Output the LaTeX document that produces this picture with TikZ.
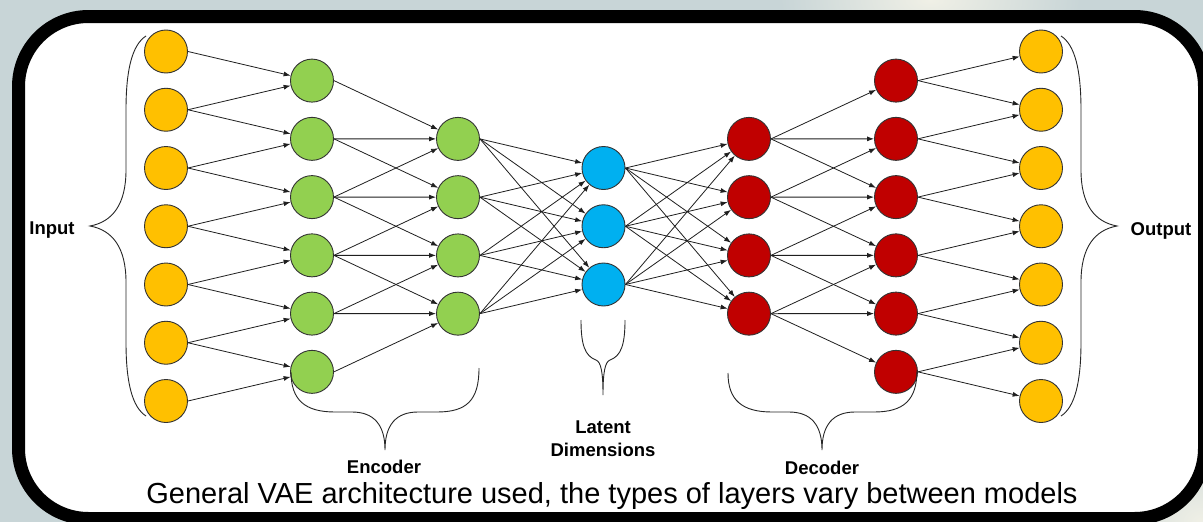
\documentclass[tikz,border=0pt]{standalone}
\usepackage{fontspec}
\setmainfont{Liberation Sans}
\usetikzlibrary{arrows.meta}
\definecolor{cyel}{HTML}{FFC000}
\definecolor{cgrn}{HTML}{92D050}
\definecolor{cblu}{HTML}{00B0F0}
\definecolor{cred}{HTML}{C00000}
\definecolor{bgc}{RGB}{200,213,215}
\definecolor{bglt}{RGB}{240,240,230}
\begin{document}
\begin{tikzpicture}[x=1pt,y=-1pt,
  neuron/.style={circle, draw=black!80, line width=0.9pt, minimum size=43pt, inner sep=0pt},
  inp/.style={neuron, fill=cyel},
  enc/.style={neuron, fill=cgrn},
  lat/.style={neuron, fill=cblu},
  dec/.style={neuron, fill=cred},
  conn/.style={draw=black!88, line width=0.8pt, -{Latex[length=7pt,width=5pt]}},
  brc/.style={draw=black!85, line width=0.9pt},
  lbl/.style={font=\fontsize{18.5}{22}\selectfont\bfseries, anchor=base},
  captxt/.style={font=\fontsize{29}{33}\selectfont, anchor=base}
]
\useasboundingbox (0,0) rectangle (1203,522);
% background
\fill[bgc] (0,0) rectangle (1203,522);
\shade[inner color=bglt, outer color=bgc] (930,0) ellipse (150 and 70);
\shade[inner color=bglt, outer color=bgc] (1203,522) ellipse (120 and 90);
% frame
\draw[line width=13pt, fill=white, rounded corners=70pt] (18.5,16.5) rectangle (1204.5,518.5);

% nodes
\foreach \i in {0,...,6} {\node[inp] (in\i) at (166,{51.5+58.25*\i}) {};}
\foreach \i in {0,...,5} {\node[enc] (e1\i) at (312,{80.6+58.25*\i}) {};}
\foreach \i in {0,...,3} {\node[enc] (e2\i) at (458,{138.9+58.25*\i}) {};}
\foreach \i in {0,...,2} {\node[lat] (lt\i) at (603.5,{168+58.25*\i}) {};}
\foreach \i in {0,...,3} {\node[dec] (d1\i) at (749,{138.9+58.25*\i}) {};}
\foreach \i in {0,...,5} {\node[dec] (d2\i) at (896,{80.6+58.25*\i}) {};}
\foreach \i in {0,...,6} {\node[inp] (out\i) at (1041,{51.5+58.25*\i}) {};}

% connectors
\foreach \j in {0,...,5} {
  \pgfmathtruncatemacro\k{\j+1}
  \draw[conn] (in\j.east) -- (e1\j);
  \draw[conn] (in\k.east) -- (e1\j);
}
\foreach \k in {0,...,3} {
  \foreach \d in {0,1,2} {
    \pgfmathtruncatemacro\j{\k+\d}
    \draw[conn] (e1\j.east) -- (e2\k);
  }
}
\foreach \a in {0,...,3} {\foreach \b in {0,1,2} {\draw[conn] (e2\a.east) -- (lt\b);}}
\foreach \a in {0,1,2} {\foreach \b in {0,...,3} {\draw[conn] (lt\a.east) -- (d1\b);}}
\foreach \k in {0,...,3} {
  \foreach \d in {0,1,2} {
    \pgfmathtruncatemacro\j{\k+\d}
    \draw[conn] (d1\k.east) -- (d2\j);
  }
}
\foreach \j in {0,...,5} {
  \pgfmathtruncatemacro\k{\j+1}
  \draw[conn] (d2\j.east) -- (out\j);
  \draw[conn] (d2\j.east) -- (out\k);
}

% braces
\draw[brc] (146,36) .. controls (132,45) and (126,70) .. (126,110) -- (126,170)
  .. controls (126,205) and (112,222) .. (90,226)
  .. controls (112,230) and (126,247) .. (126,282) -- (126,342)
  .. controls (126,382) and (132,407) .. (146,416);
\draw[brc] (1061,36) .. controls (1075,45) and (1081,70) .. (1081,110) -- (1081,170)
  .. controls (1081,205) and (1095,222) .. (1117,226)
  .. controls (1095,230) and (1081,247) .. (1081,282) -- (1081,342)
  .. controls (1081,382) and (1075,407) .. (1061,416);
% encoder brace
\draw[brc] (291,372) .. controls (291,400) and (305,412) .. (335,412) -- (352,412)
  .. controls (374,412) and (385,425) .. (385,450)
  .. controls (385,425) and (396,412) .. (418,412) -- (437,412)
  .. controls (467,412) and (479,400) .. (479,368);
% latent brace
\draw[brc] (581,320) .. controls (581,345) and (585,356) .. (596,360)
  .. controls (601,362) and (603,372) .. (603,395)
  .. controls (603,372) and (605,362) .. (610,360)
  .. controls (621,356) and (625,345) .. (625,320);
% decoder brace
\draw[brc] (728,373) .. controls (728,400) and (742,412) .. (772,412) -- (789,412)
  .. controls (811,412) and (822,425) .. (822,450)
  .. controls (822,425) and (833,412) .. (855,412) -- (874,412)
  .. controls (904,412) and (917,400) .. (917,370);

% labels
\node[lbl] (linput) at (52,234) {Input};
\node[lbl] (loutput) at (1161,235) {Output};
\node[lbl] (lenc) at (384,473) {Encoder};
\node[lbl] (llat1) at (603,433) {Latent};
\node[lbl] (llat2) at (603,456) {Dimensions};
\node[lbl] (ldec) at (822,474) {Decoder};
\node[captxt] (caption) at (612,503) {General VAE architecture used, the types of layers vary between models};
\end{tikzpicture}
\end{document}
